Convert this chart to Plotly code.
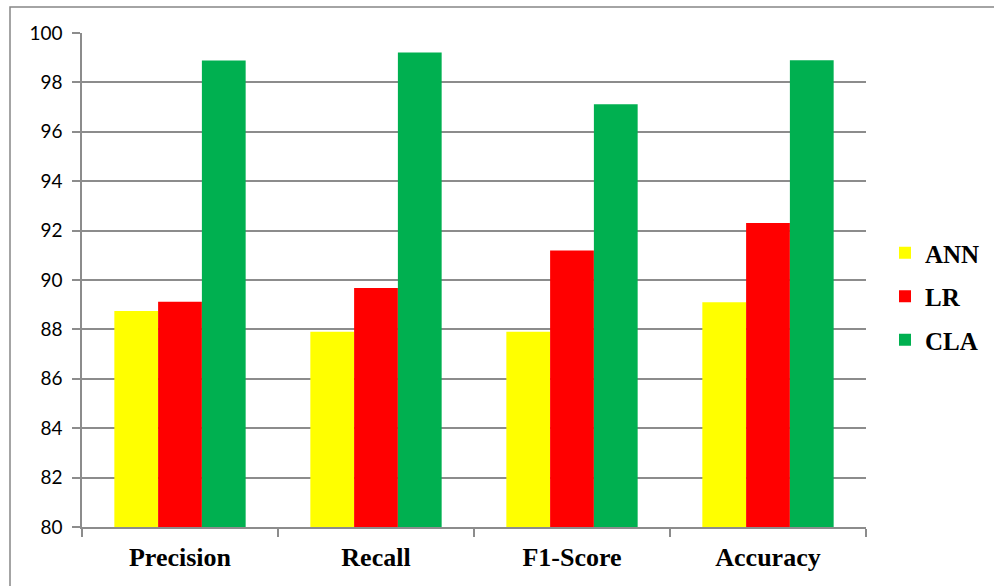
import plotly.graph_objects as go

# Metric categories and scores (%) per model
categories = ["Precision", "Recall", "F1-Score", "Accuracy"]
ann_scores = [88.74, 87.90, 87.90, 89.10]
lr_scores = [89.12, 89.68, 91.19, 92.31]
cla_scores = [98.89, 99.21, 97.12, 98.90]

series = [
    ("ANN", ann_scores, "#FFFF00"),
    ("LR", lr_scores, "#FF0000"),
    ("CLA", cla_scores, "#00B050"),
]

W, H = 994, 586
L, R, T, B = 82, 128, 33, 59
pw, ph = W - L - R, H - T - B


def px_x(x):
    return (x - L) / pw


def px_y(y):
    return 1 - (y - T) / ph


fig = go.Figure()
for name, vals, color in series:
    fig.add_trace(go.Bar(
        x=categories, y=vals, name=name,
        marker=dict(color=color, line=dict(width=0)),
        legendgroup=name,
    ))

grid = "#8C8C8C"
fig.update_layout(
    width=W, height=H,
    margin=dict(l=L, r=R, t=T, b=B, pad=0, autoexpand=False),
    paper_bgcolor="white", plot_bgcolor="white",
    barmode="group", bargap=0.33, bargroupgap=0,
    showlegend=True,
    legend=dict(
        x=px_x(885), y=px_y(230), xanchor="left", yanchor="top",
        font=dict(family="Liberation Serif", size=25, color="black", weight="bold"),
        tracegroupgap=8, itemwidth=30, bgcolor="rgba(0,0,0,0)",
    ),
    xaxis=dict(
        showline=True, linecolor=grid, linewidth=1.5,
        ticks="outside", ticklen=8, tickcolor=grid, tickwidth=1.5,
        tickson="boundaries",
        tickfont=dict(family="Liberation Serif", size=26, color="black", weight="bold"),
        ticklabelstandoff=6,
    ),
    yaxis=dict(
        range=[80, 100], dtick=2, tick0=80,
        showgrid=True, gridcolor=grid, gridwidth=1.5,
        showline=True, linecolor=grid, linewidth=1.5,
        ticks="outside", ticklen=8, tickcolor=grid, tickwidth=1.5,
        tickfont=dict(family="Lato", size=19, color="black"),
        ticklabelstandoff=6,
        zeroline=False,
    ),
    shapes=[dict(
        type="rect", xref="paper", yref="paper",
        x0=px_x(10), x1=px_x(1000), y0=px_y(7), y1=px_y(600),
        line=dict(color="#868686", width=1.5), layer="below",
    )],
)

fig.write_html("out.html")
